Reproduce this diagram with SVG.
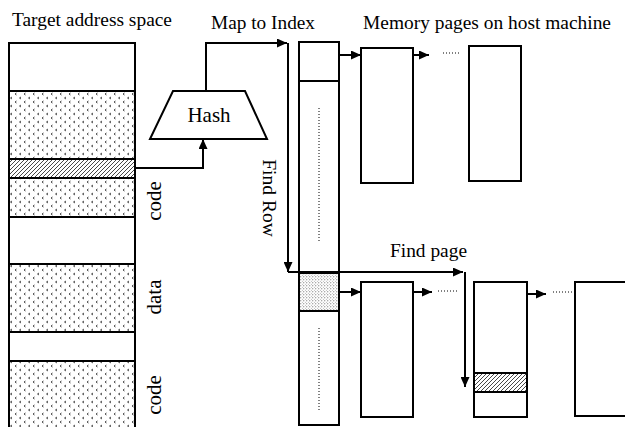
<svg xmlns="http://www.w3.org/2000/svg" width="625" height="427" viewBox="0 0 625 427">
<style>
  text { font-family: "Liberation Serif", "Times New Roman", serif; font-size: 19.5px; fill: #000; }
  .big { font-size: 21px; }
  .box { fill: #fff; stroke: #000; stroke-width: 2; }
  .ln { fill: none; stroke: #000; stroke-width: 2; }
  .conn { fill: none; stroke: #000; stroke-width: 2; }
  .dots { fill: none; stroke: #000; stroke-width: 1; stroke-dasharray: 1 2; }
  .chev { fill: url(#chev); stroke: #000; stroke-width: 2; }
  .hatch { fill: url(#hatch); stroke: #000; stroke-width: 2; }
  .dense { fill: url(#dense); stroke: #000; stroke-width: 2; }
</style>
<defs>
  <marker id="ah" markerUnits="userSpaceOnUse" markerWidth="10" markerHeight="9" refX="10" refY="4.5" orient="auto">
    <path d="M0,0 L10,4.5 L0,9 z" fill="#000"/>
  </marker>
  <pattern id="chev" patternUnits="userSpaceOnUse" width="9" height="8">
    <rect width="9" height="8" fill="#fff"/>
    <path d="M3,1 L1.5,2 L3,3 M7.5,5 L6,6 L7.5,7" fill="none" stroke="#333" stroke-width="0.9"/>
  </pattern>
  <pattern id="dense" patternUnits="userSpaceOnUse" width="3" height="3">
    <rect width="3" height="3" fill="#fff"/>
    <circle cx="0.8" cy="0.8" r="0.55" fill="#444"/>
    <circle cx="2.3" cy="2.3" r="0.45" fill="#777"/>
  </pattern>
  <pattern id="hatch" patternUnits="userSpaceOnUse" width="4" height="4">
    <rect width="4" height="4" fill="#fff"/>
    <path d="M0,4 L4,0 M-1,1 L1,-1 M3,5 L5,3" stroke="#333" stroke-width="0.9"/>
  </pattern>
</defs>

<g id="labels">
  <text x="12" y="26" textLength="160" lengthAdjust="spacingAndGlyphs">Target address space</text>
  <text x="211" y="29" textLength="104" lengthAdjust="spacingAndGlyphs">Map to Index</text>
  <text x="363" y="29" textLength="248" lengthAdjust="spacingAndGlyphs">Memory pages on host machine</text>
  <text x="390" y="257" textLength="77" lengthAdjust="spacingAndGlyphs">Find page</text>
  <text transform="translate(263,198) rotate(90)" text-anchor="middle">Find Row</text>
</g>

<g id="address-space">
  <rect class="box" x="9" y="43" width="126" height="48"/>
  <rect class="chev" x="9" y="91" width="126" height="68"/>
  <rect class="hatch" x="9" y="159" width="126" height="19"/>
  <rect class="chev" x="9" y="178" width="126" height="39"/>
  <rect class="box" x="9" y="217" width="126" height="47"/>
  <rect class="chev" x="9" y="264" width="126" height="68"/>
  <rect class="box" x="9" y="332" width="126" height="29"/>
  <rect class="chev" x="9" y="361" width="126" height="70"/>
  <text class="big" transform="translate(161,201) rotate(-90)" text-anchor="middle">code</text>
  <text class="big" transform="translate(161,297) rotate(-90)" text-anchor="middle">data</text>
  <text class="big" transform="translate(161,395) rotate(-90)" text-anchor="middle">code</text>
</g>

<g id="hash">
  <polygon class="box" points="173,91 245,91 267,139 150,139"/>
  <text class="big" x="209" y="122" text-anchor="middle">Hash</text>
</g>

<g id="index">
  <rect class="box" x="299" y="42" width="40" height="383"/>
  <line class="ln" x1="299" y1="81" x2="339" y2="81"/>
  <rect class="dense" x="299" y="273" width="40" height="38"/>
  <line class="dots" x1="319" y1="108" x2="319" y2="242"/>
  <line class="dots" x1="319" y1="328" x2="319" y2="410"/>
</g>

<g id="page-1">
  <rect class="box" x="361" y="48" width="52" height="135"/>
</g>
<g id="page-2">
  <rect class="box" x="469" y="46" width="52" height="135"/>
</g>
<g id="page-3">
  <rect class="box" x="361" y="282" width="52" height="135"/>
</g>
<g id="page-4">
  <rect class="box" x="474" y="282" width="53" height="135"/>
  <rect class="hatch" x="474" y="373" width="53" height="19"/>
</g>
<g id="page-5">
  <rect class="box" x="575" y="282" width="60" height="134"/>
</g>

<g id="connectors">
  <path class="conn" d="M135,168 H203 V139" marker-end="url(#ah)"/>
  <path class="conn" d="M206,91 V43 H287" marker-end="url(#ah)"/>
  <path class="conn" d="M288,43 V272" marker-end="url(#ah)"/>
  <path class="conn" d="M288,272 H463" marker-end="url(#ah)"/>
  <path class="conn" d="M465,272 V387" marker-end="url(#ah)"/>
  <path class="conn" d="M339,55 H361" marker-end="url(#ah)"/>
  <path class="conn" d="M413,55 H429" marker-end="url(#ah)"/>
  <line class="dots" x1="443" y1="53" x2="461" y2="53"/>
  <path class="conn" d="M339,292 H361" marker-end="url(#ah)"/>
  <path class="conn" d="M413,292 H432" marker-end="url(#ah)"/>
  <line class="dots" x1="438" y1="291" x2="458" y2="291"/>
  <path class="conn" d="M527,294 H546" marker-end="url(#ah)"/>
  <line class="dots" x1="553" y1="292" x2="573" y2="292"/>
</g>
</svg>
